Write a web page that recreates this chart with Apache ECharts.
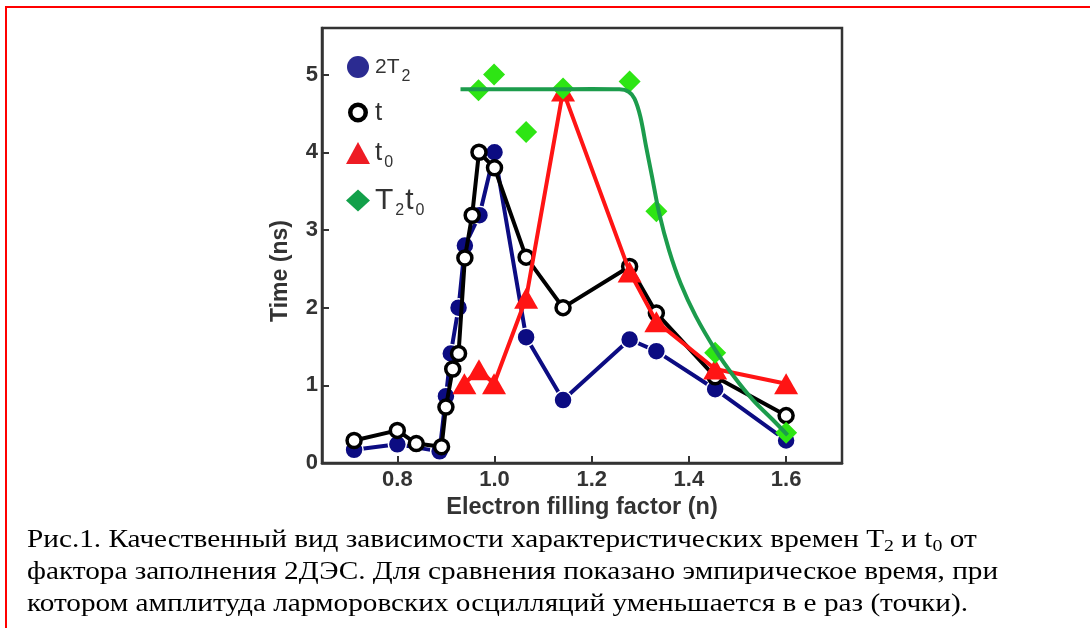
<!DOCTYPE html>
<html>
<head>
<meta charset="utf-8">
<script src="https://cdn.jsdelivr.net/npm/echarts@6/dist/echarts.min.js"></script>
<style>
  html, body { margin: 0; padding: 0; background: #fff; }
  #wrap { position: relative; width: 1090px; height: 628px; overflow: hidden; background: #fff; }
  #frame { position: absolute; left: 5px; top: 6px; width: 1200px; height: 700px; border-left: 2px solid #ff0000; border-top: 2px solid #ff0000; box-sizing: border-box; }
  #chart { position: absolute; left: 0; top: 0; width: 1090px; height: 628px; }
  #caption { position: absolute; left: 27px; top: 523px; font-family: "Liberation Serif", "Times New Roman", serif; font-size: 26px; line-height: 32px; color: #000; white-space: nowrap; transform: scaleX(1.125); transform-origin: 0 0; }
  #caption .sb { font-size: 0.68em; vertical-align: -0.22em; line-height: 0; }
</style>
</head>
<body>
<div id="wrap">
  <div id="frame"></div>
  <div id="chart"></div>
  <div id="caption">
    Рис.1. Качественный вид зависимости характеристических времен T<span class="sb">2</span> и t<span class="sb">0</span> от<br>
    фактора заполнения 2ДЭС. Для сравнения показано эмпирическое время, при<br>
    котором амплитуда ларморовских осцилляций уменьшается в е раз (точки).
  </div>
</div>
<script>
// ---- data ----
var xTicks = [0.8, 1.0, 1.2, 1.4, 1.6];
var yTicks = [0, 1, 2, 3, 4, 5];

var x2T2 = [0.711, 0.800, 0.887, 0.900, 0.910, 0.926, 0.939, 0.969, 1.000, 1.065, 1.141, 1.278, 1.333, 1.454, 1.600];
var y2T2 = [0.17, 0.24, 0.15, 0.86, 1.41, 2.00, 2.80, 3.19, 4.00, 1.62, 0.81, 1.59, 1.44, 0.95, 0.29];

var xT = [0.711, 0.800, 0.839, 0.891, 0.900, 0.914, 0.926, 0.939, 0.954, 0.968, 1.000, 1.065, 1.141, 1.278, 1.333, 1.454, 1.600];
var yT = [0.29, 0.42, 0.25, 0.21, 0.72, 1.21, 1.41, 2.64, 3.19, 4.00, 3.80, 2.65, 2.00, 2.53, 1.93, 1.11, 0.61];

var xT0 = [0.938, 0.968, 0.999, 1.065, 1.141, 1.278, 1.333, 1.454, 1.600];
var yT0 = [1.02, 1.20, 1.02, 2.12, 4.79, 2.46, 1.82, 1.21, 1.02];

var xT2t0 = [0.967, 0.999, 1.065, 1.141, 1.278, 1.333, 1.454, 1.600];
var yT2t0 = [4.80, 5.00, 4.26, 4.82, 4.91, 3.24, 1.42, 0.39];

// smooth guide curve drawn through the diamonds
var xCurve = [0.930, 1.000, 1.100, 1.200, 1.257, 1.276, 1.288, 1.300, 1.312, 1.324, 1.339, 1.359, 1.383, 1.414, 1.454, 1.493, 1.532, 1.572, 1.603];
var yCurve = [4.81, 4.81, 4.81, 4.815, 4.81, 4.78, 4.69, 4.46, 4.07, 3.69, 3.21, 2.74, 2.31, 1.89, 1.46, 1.11, 0.81, 0.56, 0.36];

function zip(xs, ys) { return xs.map(function (x, i) { return [x, ys[i]]; }); }

var chart = echarts.init(document.getElementById('chart'), null, { renderer: 'canvas' });

var ringIcon = 'path://M0 0Z M22 22Z M1 11 A10 10 0 1 1 21 11 A10 10 0 1 1 1 11 Z M5.5 11 A5.5 5.5 0 1 0 16.5 11 A5.5 5.5 0 1 0 5.5 11 Z';

var axisFont = '"Liberation Sans", Arial, Helvetica, sans-serif';

var option = {
  animation: false,
  backgroundColor: 'transparent',
  grid: {
    left: 322, top: 28, width: 520, height: 435,
    show: true, borderColor: '#333', borderWidth: 2.5, backgroundColor: 'transparent'
  },
  legend: {
    orient: 'vertical',
    left: 346, top: 56,
    padding: 0,
    itemGap: 14.5,
    itemWidth: 24,
    itemHeight: 22,
    data: [
      { name: '2T2', icon: 'circle', itemStyle: { color: '#2b2b91', borderWidth: 0 } },
      { name: 't', icon: ringIcon, itemStyle: { color: '#000', borderWidth: 0 } },
      { name: 't0', icon: 'triangle', itemStyle: { color: '#ee1c24', borderWidth: 0 } },
      { name: 'T2t0', icon: 'diamond', itemStyle: { color: '#12a04a', borderWidth: 0 } }
    ],
    formatter: function (name) {
      if (name === '2T2') return '{m20|2T}{s|2}';
      if (name === 't') return '{m25|t}';
      if (name === 't0') return '{m25|t}{s|0}';
      return '{m29|T}{s|2}{m29|t}{s|0}';
    },
    textStyle: {
      color: '#333',
      fontFamily: axisFont,
      rich: {
        m20: { fontSize: 21, lineHeight: 36, verticalAlign: 'middle', color: '#333', fontFamily: axisFont },
        m25: { fontSize: 26, lineHeight: 36, verticalAlign: 'middle', color: '#333', fontFamily: axisFont },
        m29: { fontSize: 30, lineHeight: 36, verticalAlign: 'middle', color: '#333', fontFamily: axisFont },
        s: { fontSize: 16, lineHeight: 14, verticalAlign: 'bottom', padding: [0, 1, 0, 2], color: '#333', fontFamily: axisFont }
      }
    },
    selectedMode: false
  },
  xAxis: {
    type: 'value',
    min: 0.645, max: 1.715,
    name: 'Electron filling factor (n)',
    nameLocation: 'middle',
    nameGap: 32,
    nameTextStyle: { fontFamily: axisFont, fontWeight: 'bold', fontSize: 23.5, color: '#333' },
    axisLine: { show: true, onZero: false, lineStyle: { color: '#333', width: 2.5 } },
    axisTick: { show: true, inside: true, length: 7, customValues: xTicks, lineStyle: { color: '#333', width: 2 } },
    axisLabel: {
      customValues: xTicks, margin: 6,
      fontFamily: axisFont, fontWeight: 'bold', fontSize: 22, color: '#333',
      formatter: function (v) { return v.toFixed(1); }
    },
    splitLine: { show: false }
  },
  yAxis: {
    type: 'value',
    min: 0, max: 5.6,
    axisLine: { show: true, onZero: false, lineStyle: { color: '#333', width: 2.5 } },
    axisTick: { show: true, inside: true, length: 7, customValues: yTicks, lineStyle: { color: '#333', width: 2 } },
    axisLabel: {
      customValues: yTicks, margin: 4,
      fontFamily: axisFont, fontWeight: 'bold', fontSize: 22, color: '#333',
      formatter: function (v) { return String(v); }
    },
    splitLine: { show: false }
  },
  graphic: [
    {
      type: 'text', x: 281, y: 271, rotation: Math.PI / 2,
      style: { text: 'Time (ns)', fontFamily: axisFont, fontWeight: 'bold', fontSize: 23, fill: '#333', textAlign: 'center', textVerticalAlign: 'middle' }
    }
  ],
  series: [
    {
      name: '2T2', type: 'line', data: zip(x2T2, y2T2), z: 2,
      symbol: 'circle', symbolSize: 18,
      lineStyle: { color: '#0c0c82', width: 4 },
      itemStyle: { color: '#0c0c82', borderColor: '#fff', borderWidth: 1.5 }
    },
    {
      name: 't', type: 'line', data: zip(xT, yT), z: 3,
      symbol: 'circle', symbolSize: 14,
      lineStyle: { color: '#000', width: 4 },
      itemStyle: { color: '#fff', borderColor: '#000', borderWidth: 3.5 }
    },
    {
      name: 't0', type: 'line', data: zip(xT0, yT0), z: 4,
      symbol: 'triangle', symbolSize: [24, 21],
      lineStyle: { color: '#ff1414', width: 4 },
      itemStyle: { color: '#ff1414' }
    },
    {
      name: 'T2t0', type: 'scatter', data: zip(xT2t0, yT2t0), z: 5,
      symbol: 'diamond', symbolSize: [22, 22],
      itemStyle: { color: '#2ee514', opacity: 1 }
    },
    {
      name: 'T2t0', type: 'line', data: zip(xCurve, yCurve), z: 6,
      smooth: 0.35, symbol: 'none',
      lineStyle: { color: '#1c9c4c', width: 4 },
      itemStyle: { color: '#1c9c4c' }
    }
  ]
};
chart.setOption(option);
</script>
</body>
</html>
